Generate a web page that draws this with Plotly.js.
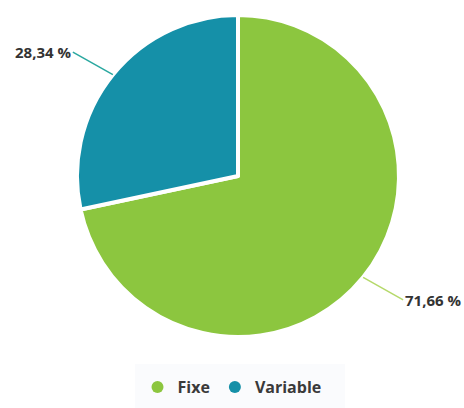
<!DOCTYPE html>
<html>
<head>
<meta charset="utf-8">
<script src="https://cdn.plot.ly/plotly-3.0.1.min.js"></script>
<style>html,body{margin:0;padding:0;background:#fff;}#chart{width:464px;height:408px;}</style>
</head>
<body>
<div id="chart"></div>
<script>
const categories = ["Fixe", "Variable"];
const values = [71.66, 28.34];
const valueLabels = ["71,66 %", "28,34 %"];
const colors = ["#8cc63f", "#1590a8"];
const lineColors = ["#b5d96a", "#2aa8a0"];

const W = 464, H = 408;
const cx = 238, cy = 176, R = 161;
const dom = {
  x: [(cx - R) / W, (cx + R) / W],
  y: [(H - cy - R) / H, (H - cy + R) / H]
};

const pie = {
  type: "pie",
  labels: categories,
  values: values,
  sort: false,
  direction: "clockwise",
  rotation: 0,
  textinfo: "none",
  hoverinfo: "none",
  showlegend: false,
  marker: { colors: colors, line: { color: "#ffffff", width: 4 } },
  domain: dom
};

const legendTraces = categories.map((c, i) => ({
  type: "scatter",
  mode: "markers",
  x: [null], y: [null],
  name: c,
  legendgroup: "g" + i,
  marker: { color: colors[i], size: 14, symbol: "circle" },
  showlegend: true,
  hoverinfo: "none"
}));

// label annotations placed at slice mid-angles computed from the values
const total = values.reduce((a, b) => a + b, 0);
let cum = 0;
const annotations = values.map((v, i) => {
  const mid = (cum + v / 2) / total;
  cum += v;
  const ang = Math.PI / 2 - mid * 2 * Math.PI; // clockwise from top
  const px = cx + R * Math.cos(ang);
  const py = cy - R * Math.sin(ang);
  const dx = Math.cos(ang) >= 0 ? 1 : -1;
  return {
    xref: "paper", yref: "paper",
    x: px / W, y: (H - py) / H,
    ax: dx * 40, ay: -Math.sin(ang) * 36,
    text: "<b>" + valueLabels[i] + "</b>",
    showarrow: true, arrowhead: 0, arrowwidth: 1.5,
    arrowcolor: lineColors[i], standoff: 0,
    xanchor: dx > 0 ? "left" : "right",
    font: { family: "Open Sans, sans-serif", size: 15, color: "#333333" }
  };
});

const layout = {
  width: W, height: H,
  margin: { l: 0, r: 0, t: 0, b: 0 },
  paper_bgcolor: "#ffffff",
  plot_bgcolor: "rgba(0,0,0,0)",
  xaxis: { visible: false },
  yaxis: { visible: false },
  showlegend: true,
  legend: {
    orientation: "h",
    x: 0.5, xanchor: "center",
    y: 21 / H, yanchor: "middle",
    font: { family: "Open Sans, sans-serif", size: 16, color: "#3a3a3a", weight: "bold" },
    itemsizing: "constant",
    tracegroupgap: 14,
    bgcolor: "rgba(0,0,0,0)"
  },
  shapes: [{
    type: "rect", xref: "paper", yref: "paper", layer: "below",
    x0: 135 / W, x1: 345 / W, y0: 0, y1: (H - 364) / H,
    fillcolor: "#fafbfd", line: { width: 0 }
  }],
  annotations: annotations
};

Plotly.newPlot("chart", [pie].concat(legendTraces), layout, { displayModeBar: false, staticPlot: true });
</script>
</body>
</html>
